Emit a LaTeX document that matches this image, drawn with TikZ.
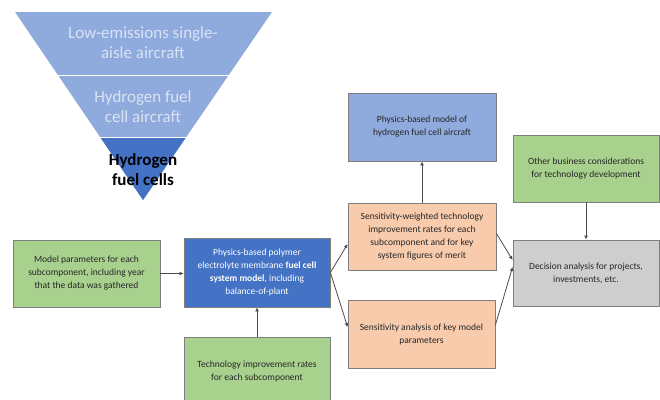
\documentclass[tikz,border=0pt]{standalone}
\usepackage{fontspec}
\setmainfont{Carlito}
\usetikzlibrary{arrows.meta,calc}
\definecolor{boxgreen}{HTML}{A9D18E}
\definecolor{boxblue}{HTML}{4472C4}
\definecolor{boxlight}{HTML}{8FAADC}
\definecolor{boxorange}{HTML}{F8CBAD}
\definecolor{boxgray}{HTML}{CFCECE}
\definecolor{edgegray}{HTML}{7F7F7F}
\definecolor{textdark}{HTML}{262626}
\definecolor{textpale}{HTML}{DAE3F3}
\tikzset{
  card/.style={draw=edgegray, line width=.8pt, minimum width=146pt, minimum height=67pt,
    align=center, inner sep=2pt, text=textdark, font=\fontsize{9.5}{13}\selectfont},
  flow/.style={draw=black!70, line width=.8pt, -{Latex[length=4pt,width=4pt]}},
  tier/.style={align=center, font=\fontsize{17}{20}\selectfont}
}
\begin{document}
\begin{tikzpicture}[x=1pt,y=-1pt]
  \path[use as bounding box, clip] (0,0) rectangle (660,399);
  % inverted triangle
  \coordinate (tl) at (15,12);
  \coordinate (tr) at (272,12);
  \coordinate (tip) at (143,200);
  \fill[boxlight] (tl) -- (tr) -- (tip) -- cycle;
  \fill[boxblue] ($(tl)!.665!(tip)$) -- ($(tr)!.665!(tip)$) -- (tip) -- cycle;
  \draw[white, line width=.6pt] ($(tl)!.335!(tip)$) -- ($(tr)!.335!(tip)$);
  \draw[white, line width=.6pt] ($(tl)!.665!(tip)$) -- ($(tr)!.665!(tip)$);
  \node[tier, text=textpale] (tierone) at (143,43) {Low-emissions single-\\aisle aircraft};
  \node[tier, text=textpale] (tiertwo) at (143,107) {Hydrogen fuel\\cell aircraft};
  \node[tier, text=black, font=\fontsize{17}{20}\selectfont\bfseries] (tierthree) at (143,170) {Hydrogen\\fuel cells};

  % boxes
  \node[card, fill=boxgreen, minimum width=147pt] (params) at (86.5,273.5)
    {Model parameters for each\\subcomponent, including year\\that the data was gathered};
  \node[card, fill=boxblue, text=white, minimum height=69pt] (fcmodel) at (257,272.5)
    {Physics-based polymer\\electrolyte membrane \textbf{fuel cell}\\\textbf{system model}, including\\balance-of-plant};
  \node[card, fill=boxgreen, minimum height=68pt] (techrates) at (257,371)
    {Technology improvement rates\\for each subcomponent};
  \node[card, fill=boxlight, minimum width=148pt, minimum height=68pt] (aircraft) at (422,127)
    {Physics-based model of\\hydrogen fuel cell aircraft};
  \node[card, fill=boxorange, minimum width=148pt] (sensweight) at (422,236.5)
    {Sensitivity-weighted technology\\improvement rates for each\\subcomponent and for key\\system figures of merit};
  \node[card, fill=boxorange, minimum width=147pt, minimum height=68pt] (sensanalysis) at (421.5,334)
    {Sensitivity analysis of key model\\parameters};
  \node[card, fill=boxgreen] (business) at (586,168.5)
    {Other business considerations\\for technology development};
  \node[card, fill=boxgray, minimum height=66pt] (decision) at (586,273)
    {Decision analysis for projects,\\investments, etc.};

  % connectors
  \draw[flow] (params.east) -- (params.east -| fcmodel.west);
  \draw[flow] (techrates) -- (fcmodel);
  \draw[flow] (fcmodel.east) -- ([yshift=-7.5pt]sensweight.west);
  \draw[flow] (fcmodel.east) -- ([yshift=7pt]sensanalysis.west);
  \draw[flow] (sensweight) -- (aircraft);
  \draw[flow] ([yshift=3pt]sensweight.east) -- ([yshift=13pt]decision.west);
  \draw[flow] ([yshift=9pt]sensanalysis.east) -- ([yshift=6pt]decision.west);
  \draw[flow] (business) -- (decision);
\end{tikzpicture}
\end{document}
